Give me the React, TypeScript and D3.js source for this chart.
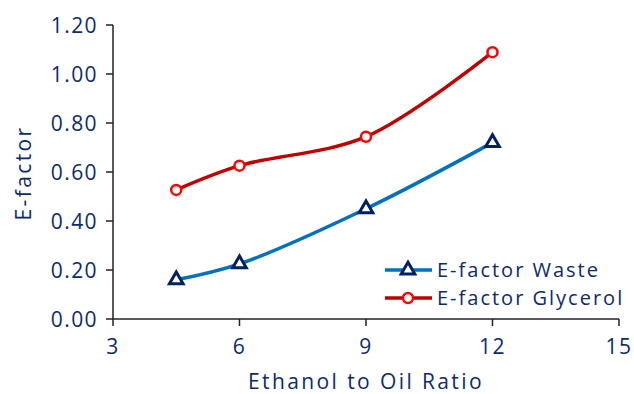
import React from "react";
import * as d3 from "d3";

const ratios = [4.5, 6, 9, 12];
const wasteValues = [0.16, 0.225, 0.45, 0.72];
const glycerolValues = [0.527, 0.626, 0.744, 1.089];
const yTicks = [0, 0.2, 0.4, 0.6, 0.8, 1.0, 1.2];
const xTicks = [3, 6, 9, 12, 15];
const seriesNames = ["E-factor Waste", "E-factor Glycerol"];

const W = 634, H = 394;
const TEXT = "#0D2B6B";
const FONT = "'Open Sans', sans-serif";

export default function App() {
  const x = d3.scaleLinear().domain([3, 15]).range([113, 619]);
  const y = d3.scaleLinear().domain([0, 1.2]).range([319, 25]);
  const line = d3
    .line<number>()
    .x((_, i) => x(ratios[i]))
    .y((d) => y(d))
    .curve(d3.curveCatmullRom.alpha(0.5));
  const tri = d3.symbol().type(d3.symbolTriangle).size(80);

  return (
    <svg
      width={W}
      height={H}
      style={{ position: "absolute", left: 0, top: 0, background: "#fff" }}
      fontFamily={FONT}
    >
      {/* axes */}
      <line x1={x(3)} x2={x(3)} y1={y(1.2)} y2={y(0)} stroke="#222" strokeWidth={1.5} />
      <line x1={x(3)} x2={x(15)} y1={y(0)} y2={y(0)} stroke="#222" strokeWidth={1.5} />
      {yTicks.map((t) => (
        <g key={"y" + t}>
          <line x1={x(3) - 7} x2={x(3)} y1={y(t)} y2={y(t)} stroke="#222" strokeWidth={1.5} />
          <text x={x(3) - 15} y={y(t)} dy="0.36em" textAnchor="end" fontSize={21} letterSpacing={1.4} fill={TEXT}>
            {t.toFixed(2)}
          </text>
        </g>
      ))}
      {xTicks.map((t) => (
        <g key={"x" + t}>
          <line x1={x(t)} x2={x(t)} y1={y(0)} y2={y(0) + 7} stroke="#222" strokeWidth={1.5} />
          <text x={x(t)} y={y(0) + 35} textAnchor="middle" fontSize={21} letterSpacing={1.4} fill={TEXT}>
            {t}
          </text>
        </g>
      ))}
      <text x={366} y={389} textAnchor="middle" fontSize={21} letterSpacing={2.4} fill={TEXT}>
        Ethanol to Oil Ratio
      </text>
      <text
        transform={`translate(31,173) rotate(-90)`}
        textAnchor="middle"
        fontSize={21}
        letterSpacing={2.4}
        fill={TEXT}
      >
        E-factor
      </text>

      {/* series */}
      <path d={line(glycerolValues) || ""} fill="none" stroke="#C00000" strokeWidth={3.5} />
      <path d={line(wasteValues) || ""} fill="none" stroke="#0070C0" strokeWidth={3.5} />
      {glycerolValues.map((v, i) => (
        <circle key={"c" + i} cx={x(ratios[i])} cy={y(v)} r={5} fill="#fff" stroke="#FF0000" strokeWidth={2.5} />
      ))}
      {wasteValues.map((v, i) => (
        <path
          key={"t" + i}
          d={tri() || ""}
          transform={`translate(${x(ratios[i])},${y(v)})`}
          fill="#fff"
          stroke="#002060"
          strokeWidth={3}
        />
      ))}

      {/* legend */}
      {seriesNames.map((name, i) => {
        const ly = 270 + i * 28;
        return (
          <g key={name}>
            <line x1={385} x2={432} y1={ly} y2={ly} stroke={i === 0 ? "#0070C0" : "#C00000"} strokeWidth={3.5} />
            {i === 0 ? (
              <path d={tri() || ""} transform={`translate(408,${ly})`} fill="#fff" stroke="#002060" strokeWidth={3} />
            ) : (
              <circle cx={408} cy={ly} r={5} fill="#fff" stroke="#FF0000" strokeWidth={2.5} />
            )}
            <text x={437} y={ly} dy="0.36em" fontSize={20} letterSpacing={2} fill={TEXT}>
              {name}
            </text>
          </g>
        );
      })}
    </svg>
  );
}
